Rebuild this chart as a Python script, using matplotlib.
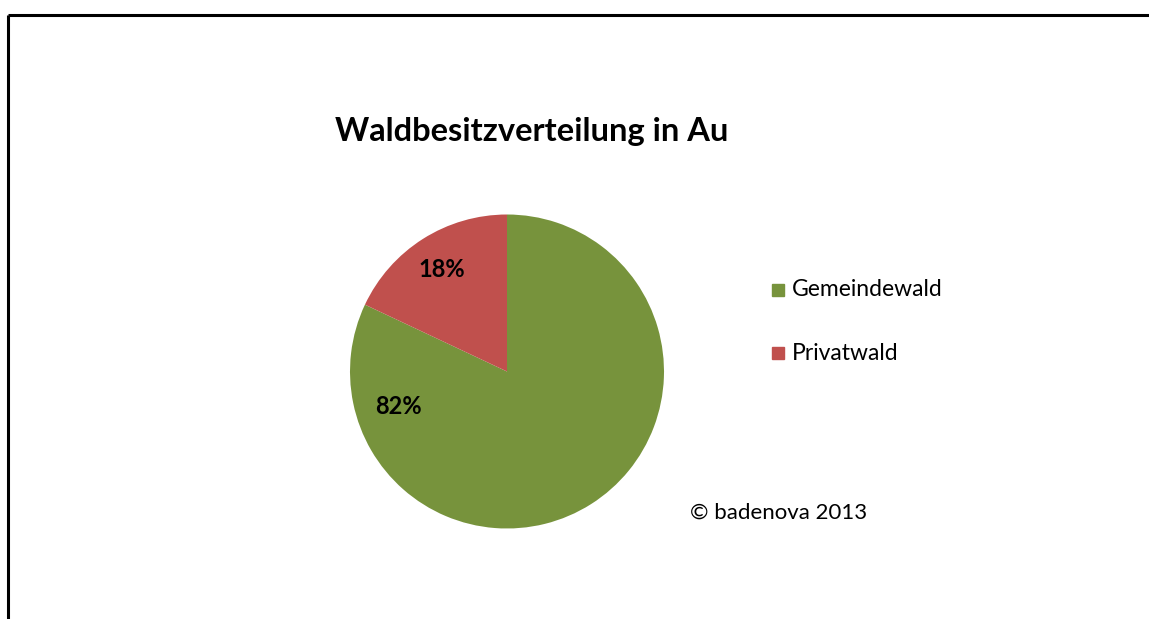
import numpy as np
import matplotlib.pyplot as plt

labels = ['Gemeindewald', 'Privatwald']
shares = [82, 18]
colors = ['#77933C', '#C0504D']
title = 'Waldbesitzverteilung in Au'
credit = '\u00a9 badenova 2013'

W, H = 1149, 619
plt.rcParams['font.family'] = ['Lato', 'DejaVu Sans']

fig = plt.figure(figsize=(W / 100, H / 100), dpi=100)

def px(x0, y0, x1, y1):
    # pixel box (top-left origin) -> figure fraction
    return [x0 / W, 1 - y1 / H, (x1 - x0) / W, (y1 - y0) / H]

# outer frame: top and left edges only
frame = fig.add_axes([0, 0, 1, 1])
frame.set_xlim(0, W)
frame.set_ylim(H, 0)
frame.axis('off')
frame.plot([8, W], [15, 15], color='black', lw=2.2, solid_capstyle='butt')
frame.plot([8, 8], [15, H], color='black', lw=2.2, solid_capstyle='butt')

ax = fig.add_axes(px(350, 214, 664, 529))
wedges, texts, autotexts = ax.pie(shares, colors=colors, startangle=90, counterclock=False,
                                  autopct='%d%%', pctdistance=0.77,
                                  textprops=dict(fontsize=17, fontweight='bold', color='black'))
ax.set_xlim(-1, 1)
ax.set_ylim(-1, 1)
ax.set_aspect('equal')
# the big slice label sits on the left side, like the original
ang = np.deg2rad(198)
autotexts[0].set_position((0.73 * np.cos(ang), 0.73 * np.sin(ang)))

fig.text(532 / W, 1 - 131 / H, title, ha='center', va='center', fontsize=23.5, fontweight='bold')

for i, (lab, c) in enumerate(zip(labels, colors)):
    y = 290 + i * 63
    fig.patches.append(plt.Rectangle((772 / W, 1 - (y + 6) / H), 12 / W, 12 / H,
                                     transform=fig.transFigure, color=c))
    fig.text(792 / W, 1 - y / H, lab, ha='left', va='center', fontsize=16.5)

fig.text(690 / W, 1 - 513 / H, credit, ha='left', va='center', fontsize=16)

fig.savefig('out.png', dpi=100, facecolor='white')
